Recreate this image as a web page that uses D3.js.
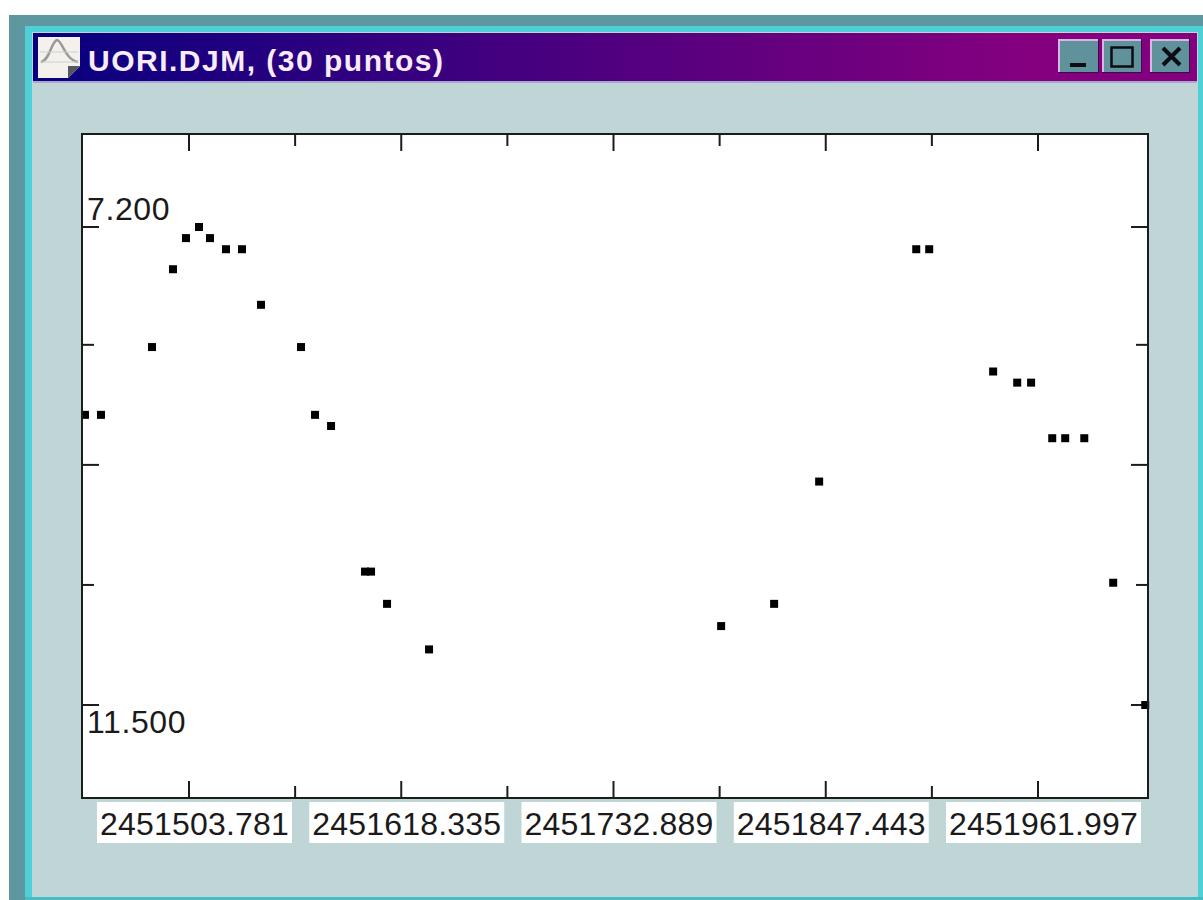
<!DOCTYPE html>
<html>
<head>
<meta charset="utf-8">
<title>UORI.DJM</title>
<script src="https://cdn.jsdelivr.net/npm/d3@7"></script>
<style>
  html, body { margin: 0; padding: 0; background: #fff; }
  svg { display: block; }
  text { font-family: "Liberation Sans", Arial, sans-serif; }
</style>
</head>
<body>
<svg id="chart" width="1203" height="900"></svg>
<script>
// ----------- DATA -----------
const windowTitle = "UORI.DJM, (30 puntos)";

const julianDates = [
  2451447.64, 2451456.28, 2451483.81, 2451495.14, 2451502.16, 2451509.18,
  2451515.12, 2451523.75, 2451532.39, 2451542.65, 2451564.24, 2451571.80,
  2451580.44, 2451598.79, 2451602.03, 2451610.67, 2451633.34, 2451790.98,
  2451819.58, 2451843.88, 2451896.28, 2451903.28, 2451937.78, 2451950.78,
  2451958.28, 2451969.68, 2451976.68, 2451986.98, 2452002.58, 2452019.88
];
const magnitudes = [
  8.89, 8.89, 8.28, 7.58, 7.30, 7.20,
  7.30, 7.40, 7.40, 7.90, 8.28, 8.89,
  8.99, 10.30, 10.30, 10.59, 11.00, 10.79,
  10.59, 9.49, 7.40, 7.40, 8.50, 8.60,
  8.60, 9.10, 9.10, 9.10, 10.40, 11.50
];

const xLabelTicks = [2451503.781, 2451618.335, 2451732.889, 2451847.443, 2451961.997];
const xMinorTicks = [2451561.058, 2451675.612, 2451790.166, 2451904.720];
const yLabelTicks = [7.2, 9.34, 11.5];
const yMinorTicks = [8.26, 10.42];
const yLabels = [7.2, 11.5];

// ----------- LAYOUT -----------
const plot = { left: 82, right: 1148, top: 134, bottom: 798 };
const longTick = 17;
const shortTick = 12;
const markerSize = 8;

const x = d3.scaleLinear().domain([2451503.781, 2451961.997]).range([189, 1038]);
const y = d3.scaleLinear().domain([7.2, 11.5]).range([227, 705]);

const svg = d3.select("#chart");

// ----------- WINDOW -----------
const defs = svg.append("defs");
const grad = defs.append("linearGradient").attr("id", "titleGrad");
grad.append("stop").attr("offset", "0%").attr("stop-color", "#07007f");
grad.append("stop").attr("offset", "85%").attr("stop-color", "#84007f");
grad.append("stop").attr("offset", "100%").attr("stop-color", "#84007f");

function box(sel, bx, by, w, h, fill) {
  return sel.append("rect").attr("x", bx).attr("y", by).attr("width", w).attr("height", h).attr("fill", fill);
}

box(svg, 9, 15, 1194, 885, "#5f97a1");
box(svg, 25, 26, 1178, 874, "#4fd0d6");
box(svg, 32, 32, 1166, 865, "#bfd5d6");
box(svg, 25, 897, 1178, 3, "#45bdc2");
box(svg, 33, 33, 1164, 48, "url(#titleGrad)");
box(svg, 33, 81, 1164, 2, "#a9a6d2");

// app icon
const icon = svg.append("g");
icon.append("path").attr("d", "M38 37H80V66L68 78H38Z").attr("fill", "#f4f1ec");
icon.append("path").attr("d", "M68 78V66H80Z").attr("fill", "#55555f");
icon.append("path").attr("d", "M41 62C50 60 51 42 57 40C62 40 65 60 78 62")
  .attr("fill", "none").attr("stroke", "#9a9a9a").attr("stroke-width", 2.5);
icon.append("path").attr("d", "M40 52H78M40 62H78").attr("stroke", "#cfcfcf").attr("stroke-width", 1);

svg.append("text")
  .attr("x", 88).attr("y", 71)
  .attr("font-size", 30).attr("font-weight", "bold")
  .attr("letter-spacing", 1.5)
  .attr("fill", "#f8ecfa")
  .text(windowTitle);

// window buttons
function button(bx, w) {
  box(svg, bx, 39, w, 34, "#3a0a52");
  box(svg, bx, 39, w - 1, 33, "#dcb4e6");
  box(svg, bx + 2, 41, w - 3, 31, "#5f929b");
}
button(1058, 41);
button(1102, 40);
button(1150, 40);
box(svg, 1070, 63, 16, 4, "#0c0c14");
svg.append("rect").attr("x", 1111.5).attr("y", 47.5).attr("width", 21).attr("height", 19)
  .attr("fill", "none").attr("stroke", "#0c0c14").attr("stroke-width", 2.5);
svg.append("path").attr("d", "M1163 48L1180 65M1180 48L1163 65")
  .attr("stroke", "#0c0c14").attr("stroke-width", 4).attr("fill", "none");

// ----------- PLOT -----------
box(svg, plot.left, plot.top, plot.right - plot.left, plot.bottom - plot.top, "#fff");

// x labels sit on white boxes under the long ticks
const labelWidth = 195;
const xLabel = svg.append("g").selectAll("g").data(xLabelTicks).enter().append("g")
  .attr("transform", d => `translate(${x(d) + 5.5},0)`);
xLabel.append("rect")
  .attr("x", -labelWidth / 2).attr("y", 802)
  .attr("width", labelWidth).attr("height", 41)
  .attr("fill", "#fff");
xLabel.append("text")
  .attr("y", 835)
  .attr("text-anchor", "middle")
  .attr("font-size", 32)
  .attr("letter-spacing", 0.2)
  .attr("fill", "#1a1a1a")
  .text(d => d3.format(".3f")(d));

svg.append("g").selectAll("text").data(yLabels).enter().append("text")
  .attr("x", 87)
  .attr("y", d => d === 7.2 ? 220 : 733)
  .attr("font-size", 32)
  .attr("letter-spacing", 0.6)
  .attr("fill", "#1a1a1a")
  .text(d => d3.format(".3f")(d));

// ticks point inward from all four sides
function drawAxis(axisFn, scale, values, size, tx, ty) {
  const g = svg.append("g")
    .attr("transform", `translate(${tx},${ty})`)
    .call(axisFn(scale).tickValues(values).tickSize(size).tickFormat("").offset(0));
  g.select(".domain").remove();
  g.selectAll("line").attr("stroke", "#1c1c1c").attr("stroke-width", 2);
}

drawAxis(d3.axisTop, x, xLabelTicks, longTick, 0, plot.bottom);
drawAxis(d3.axisTop, x, xMinorTicks, shortTick, 0, plot.bottom);
drawAxis(d3.axisBottom, x, xLabelTicks, longTick, 0, plot.top);
drawAxis(d3.axisBottom, x, xMinorTicks, shortTick, 0, plot.top);
drawAxis(d3.axisRight, y, yLabelTicks, longTick, plot.left, 0);
drawAxis(d3.axisRight, y, yMinorTicks, shortTick, plot.left, 0);
drawAxis(d3.axisLeft, y, yLabelTicks, longTick, plot.right, 0);
drawAxis(d3.axisLeft, y, yMinorTicks, shortTick, plot.right, 0);

// points
svg.append("g").selectAll("rect").data(julianDates).enter().append("rect")
  .attr("x", d => x(d) - markerSize / 2)
  .attr("y", (d, i) => y(magnitudes[i]) - markerSize / 2)
  .attr("width", markerSize)
  .attr("height", markerSize)
  .attr("fill", "#000");

// frame
svg.append("rect")
  .attr("x", plot.left).attr("y", plot.top)
  .attr("width", plot.right - plot.left).attr("height", plot.bottom - plot.top)
  .attr("fill", "none").attr("stroke", "#1c1c1c").attr("stroke-width", 2);
</script>
</body>
</html>
